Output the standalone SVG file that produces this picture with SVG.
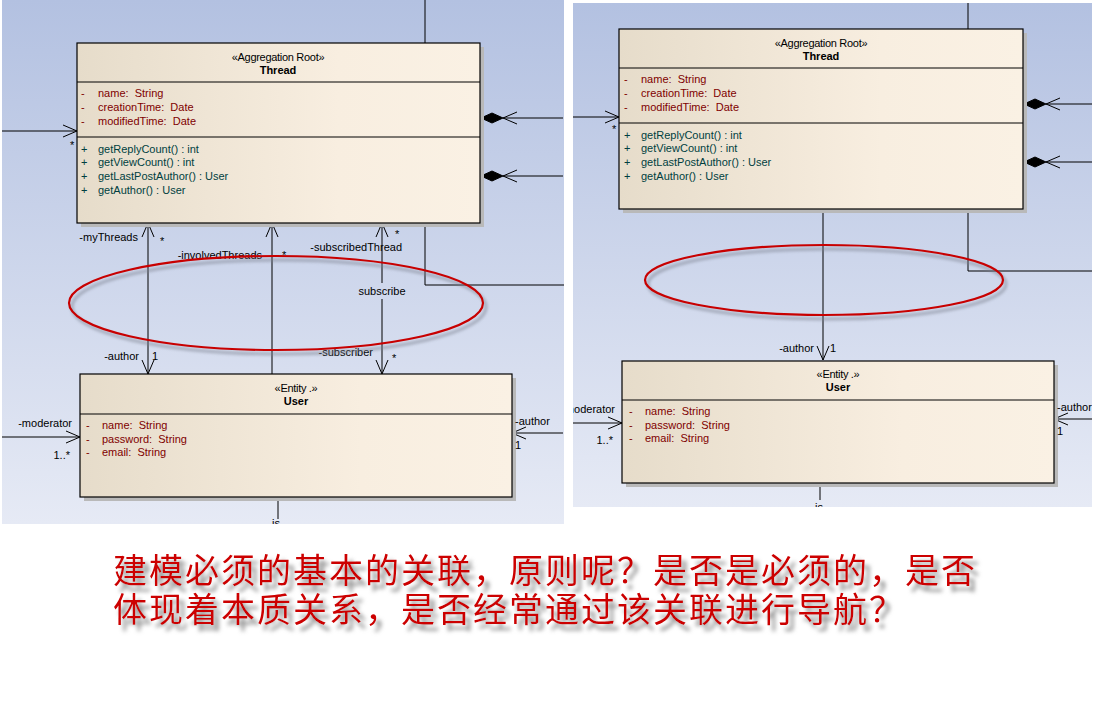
<svg xmlns="http://www.w3.org/2000/svg" width="1103" height="718" viewBox="0 0 1103 718" xml:space="preserve">
<style>
.ln{stroke:#000;stroke-width:1;fill:none}
.box{fill:url(#box);stroke:#000;stroke-width:1.2}
.sh{fill:#b9b9b9}
.dv{stroke:#000;stroke-width:1}
.t{font-family:"Liberation Sans",Arial,sans-serif;font-size:11px;fill:#000}
.st{font-family:"Liberation Sans",Arial,sans-serif;font-size:11px;fill:#000;text-anchor:middle;letter-spacing:-0.3px}
.nm{font-family:"Liberation Sans",Arial,sans-serif;font-size:11px;font-weight:bold;fill:#000;text-anchor:middle}
.at{font-family:"Liberation Sans",Arial,sans-serif;font-size:11px;fill:#800000;white-space:pre}
.op{font-family:"Liberation Sans",Arial,sans-serif;font-size:11px;fill:#003f3f;white-space:pre}
.e{fill:#000;text-anchor:end}
.dia{fill:#000;stroke:#000;stroke-width:1}
.ell{fill:none;stroke:#c80000;stroke-width:2.2}
.ells{fill:none;stroke:#7d8290;stroke-width:3;opacity:0.55}
.cn{font-family:"Noto Sans CJK SC",sans-serif;font-size:34px;letter-spacing:2px;fill:#cc0000;filter:url(#tshadow)}
</style>
<defs>
<linearGradient id="bg" x1="0" y1="0" x2="0" y2="1"><stop offset="0" stop-color="#b3c1e1"/><stop offset="1" stop-color="#e6eaf5"/></linearGradient>
<linearGradient id="box" x1="0" y1="0" x2="1" y2="0"><stop offset="0" stop-color="#e6dcca"/><stop offset="0.65" stop-color="#f8eee0"/><stop offset="1" stop-color="#faf1e4"/></linearGradient>
<marker id="open" viewBox="0 0 16 14" refX="15" refY="7" markerWidth="16" markerHeight="14" markerUnits="userSpaceOnUse" orient="auto-start-reverse"><path d="M1,1 L15,7 L1,13" fill="none" stroke="#000" stroke-width="1"/></marker>
<filter id="tshadow" x="-5%" y="-30%" width="115%" height="180%">
<feGaussianBlur in="SourceAlpha" stdDeviation="2"/>
<feOffset dx="5" dy="6" result="b"/>
<feFlood flood-color="#8c8c8c"/>
<feComposite in2="b" operator="in" result="s"/>
<feMerge><feMergeNode in="s"/><feMergeNode in="SourceGraphic"/></feMerge>
</filter>
<filter id="blur2" x="-10%" y="-30%" width="120%" height="160%"><feGaussianBlur stdDeviation="1.5"/></filter>
<clipPath id="cl"><rect x="2" y="0" width="562" height="524"/></clipPath>
<clipPath id="cr"><rect x="573" y="3" width="519" height="504"/></clipPath>
</defs>
<rect width="1103" height="718" fill="#fff"/>

<g id="left-panel" clip-path="url(#cl)">
<rect x="2" y="0" width="562" height="524" fill="url(#bg)"/>
<g id="connectors-left" class="ln">
<path d="M425,0 V43"/>
<path d="M425,223 V285 H564"/>
<path d="M0,131 H77" marker-end="url(#open)"/>
<path d="M563,118 H503" marker-end="url(#open)"/>
<polygon class="dia" points="481,118 492,113 503,118 492,123"/>
<path d="M563,176 H503" marker-end="url(#open)"/>
<polygon class="dia" points="481,176 492,171 503,176 492,181"/>
<path d="M148,223 V374" marker-start="url(#open)" marker-end="url(#open)"/>
<path d="M272,374 V223" marker-end="url(#open)"/>
<path d="M382,283 V223" marker-end="url(#open)"/>
<path d="M382,299 V374" marker-end="url(#open)"/>
<path d="M0,437 H80" marker-end="url(#open)"/>
<path d="M563,433 H512" marker-end="url(#open)"/>
<path d="M278,497 V519"/>
</g>
<g id="thread-left">
<rect class="sh" x="81" y="47" width="403" height="180"/>
<rect class="box" x="77" y="43" width="403" height="180"/>
<line class="dv" x1="77" y1="82" x2="480" y2="82"/>
<line class="dv" x1="77" y1="137" x2="480" y2="137"/>
<text class="st" x="278" y="61">«Aggregation Root»</text>
<text class="nm" x="278" y="74">Thread</text>
<text class="at" x="81" y="97">-</text><text class="at" x="98" y="97">name:  String</text>
<text class="at" x="81" y="111">-</text><text class="at" x="98" y="111">creationTime:  Date</text>
<text class="at" x="81" y="125">-</text><text class="at" x="98" y="125">modifiedTime:  Date</text>
<text class="op" x="81" y="153">+</text><text class="op" x="98" y="153">getReplyCount() : int</text>
<text class="op" x="81" y="166">+</text><text class="op" x="98" y="166">getViewCount() : int</text>
<text class="op" x="81" y="180">+</text><text class="op" x="98" y="180">getLastPostAuthor() : User</text>
<text class="op" x="81" y="194">+</text><text class="op" x="98" y="194">getAuthor() : User</text>
</g>
<g id="user-left">
<rect class="sh" x="84" y="378" width="432" height="123"/>
<rect class="box" x="80" y="374" width="432" height="123"/>
<line class="dv" x1="80" y1="414" x2="512" y2="414"/>
<text class="st" x="296" y="392">«Entity .»</text>
<text class="nm" x="296" y="405">User</text>
<text class="at" x="86" y="429">-</text><text class="at" x="102" y="429">name:  String</text>
<text class="at" x="86" y="443">-</text><text class="at" x="102" y="443">password:  String</text>
<text class="at" x="86" y="456">-</text><text class="at" x="102" y="456">email:  String</text>
</g>
<g id="labels-left" class="t">
<text x="70" y="149">*</text>
<text class="e" x="138" y="241">-myThreads</text>
<text x="160" y="245">*</text>
<text class="e" x="262" y="259">-involvedThreads</text>
<text x="282" y="259">*</text>
<text class="e" x="402" y="251">-subscribedThread</text>
<text x="395" y="238">*</text>
<text x="382" y="295" text-anchor="middle">subscribe</text>
<text class="e" x="373" y="356">-subscriber</text>
<text x="392" y="362">*</text>
<text class="e" x="139" y="360">-author</text>
<text x="152" y="360">1</text>
<text class="e" x="72" y="427">-moderator</text>
<text class="e" x="70" y="459">1..*</text>
<text x="515" y="425">-author</text>
<text x="515" y="449">1</text>
<text x="272" y="527">is</text>
</g>
<ellipse class="ells" cx="279" cy="307" rx="207" ry="47" filter="url(#blur2)"/>
<ellipse class="ell" cx="276" cy="303" rx="207" ry="47"/>
</g>

<g id="right-panel" clip-path="url(#cr)">
<rect x="573" y="3" width="519" height="504" fill="url(#bg)"/>
<g id="connectors-right" class="ln">
<path d="M968,3 V29"/>
<path d="M968,209 V271 H1092"/>
<path d="M573,117 H619" marker-end="url(#open)"/>
<path d="M1092,104 H1046" marker-end="url(#open)"/>
<polygon class="dia" points="1024,104 1035,99 1046,104 1035,109"/>
<path d="M1092,162 H1046" marker-end="url(#open)"/>
<polygon class="dia" points="1024,162 1035,157 1046,162 1035,167"/>
<path d="M823,209 V360" marker-end="url(#open)"/>
<path d="M573,423 H622" marker-end="url(#open)"/>
<path d="M1092,419 H1054" marker-end="url(#open)"/>
<path d="M820,483 V500"/>
</g>
<g id="thread-right">
<rect class="sh" x="623" y="33" width="404" height="180"/>
<rect class="box" x="619" y="29" width="404" height="180"/>
<line class="dv" x1="619" y1="68" x2="1023" y2="68"/>
<line class="dv" x1="619" y1="123" x2="1023" y2="123"/>
<text class="st" x="821" y="47">«Aggregation Root»</text>
<text class="nm" x="821" y="60">Thread</text>
<text class="at" x="624" y="83">-</text><text class="at" x="641" y="83">name:  String</text>
<text class="at" x="624" y="97">-</text><text class="at" x="641" y="97">creationTime:  Date</text>
<text class="at" x="624" y="111">-</text><text class="at" x="641" y="111">modifiedTime:  Date</text>
<text class="op" x="624" y="139">+</text><text class="op" x="641" y="139">getReplyCount() : int</text>
<text class="op" x="624" y="152">+</text><text class="op" x="641" y="152">getViewCount() : int</text>
<text class="op" x="624" y="166">+</text><text class="op" x="641" y="166">getLastPostAuthor() : User</text>
<text class="op" x="624" y="180">+</text><text class="op" x="641" y="180">getAuthor() : User</text>
</g>
<g id="user-right">
<rect class="sh" x="626" y="365" width="432" height="122"/>
<rect class="box" x="622" y="361" width="432" height="122"/>
<line class="dv" x1="622" y1="400" x2="1054" y2="400"/>
<text class="st" x="838" y="378">«Entity .»</text>
<text class="nm" x="838" y="391">User</text>
<text class="at" x="629" y="415">-</text><text class="at" x="645" y="415">name:  String</text>
<text class="at" x="629" y="429">-</text><text class="at" x="645" y="429">password:  String</text>
<text class="at" x="629" y="442">-</text><text class="at" x="645" y="442">email:  String</text>
</g>
<g id="labels-right" class="t">
<text x="612" y="133">*</text>
<text class="e" x="814" y="352">-author</text>
<text x="830" y="352">1</text>
<text class="e" x="615" y="413">-moderator</text>
<text class="e" x="613" y="444">1..*</text>
<text x="1057" y="411">-author</text>
<text x="1057" y="435">1</text>
<text x="815" y="511">is</text>
</g>
<ellipse class="ells" cx="827" cy="284" rx="179" ry="35" filter="url(#blur2)"/>
<ellipse class="ell" cx="824" cy="280" rx="179" ry="35"/>
</g>

<g id="question">
<text class="cn"><tspan x="113" y="583">建模必须的基本的关联，原则呢？是否是必须的，是否</tspan><tspan x="113" y="622">体现着本质关系，是否经常通过该关联进行导航？</tspan></text>
</g>
</svg>
